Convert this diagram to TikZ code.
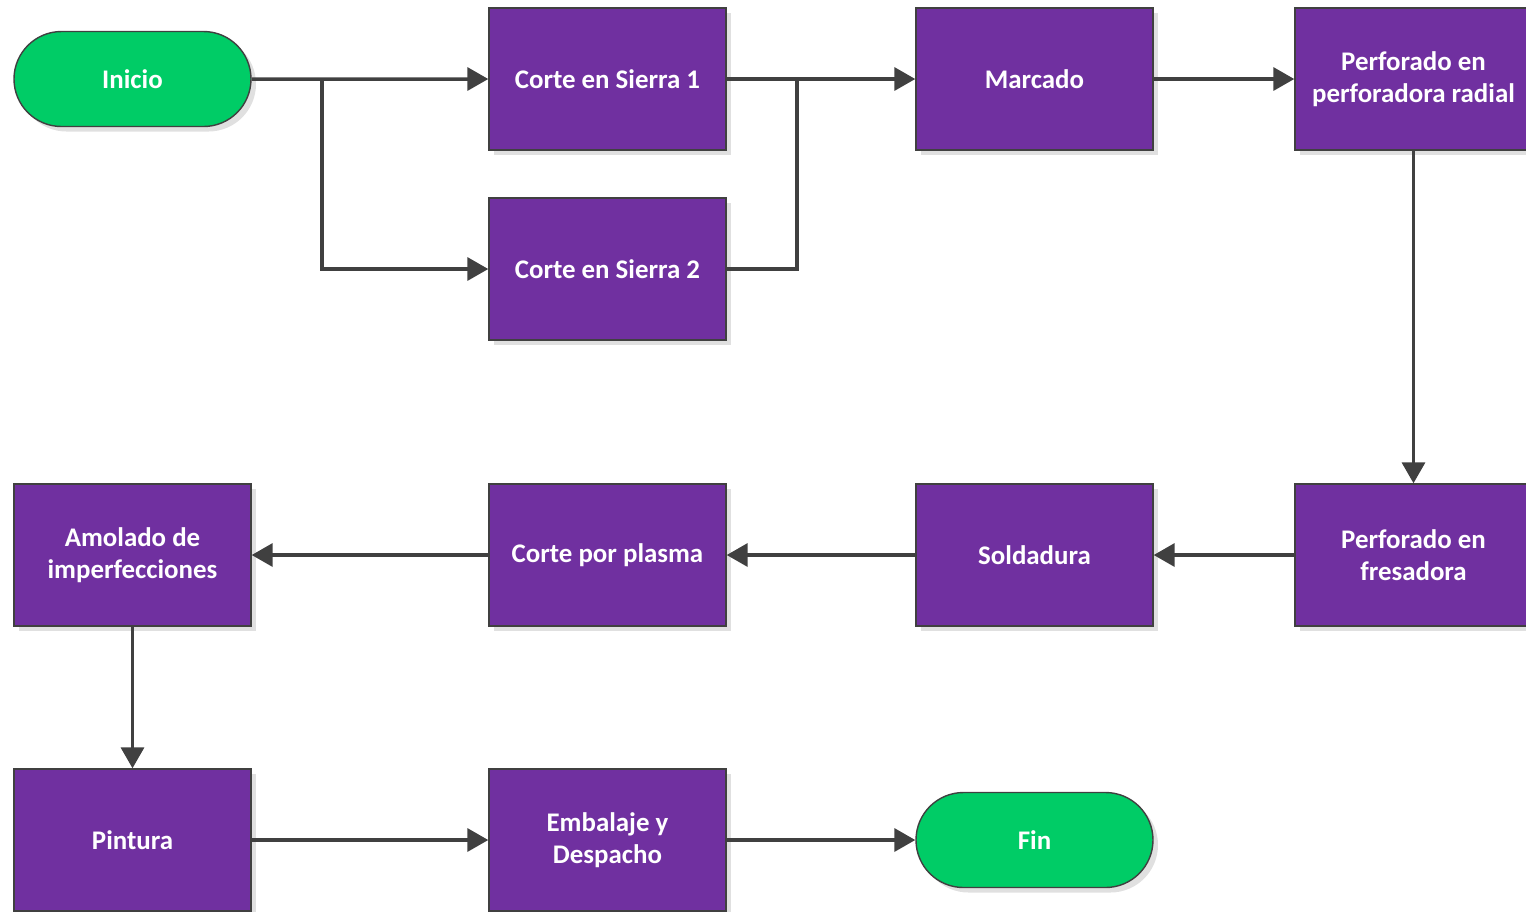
\documentclass[tikz,border=0pt]{standalone}
\usepackage{fontspec}
\setmainfont{Carlito}
\usepackage{xcolor}
\definecolor{flpurple}{HTML}{7030A0}
\definecolor{flgreen}{HTML}{00CC66}
\definecolor{flgray}{HTML}{404040}
\usetikzlibrary{arrows.meta,shapes.misc,shadows}

\begin{document}
\begin{tikzpicture}[
  procbox/.style={draw=flgray,line width=0.4pt,fill=flpurple,minimum width=2.37cm,minimum height=1.42cm,inner sep=0pt,
    text=white,align=center,font=\fontsize{7.65}{9.1}\selectfont\bfseries,
    drop shadow={shadow xshift=0.05cm,shadow yshift=-0.05cm,fill=black!12,opacity=1}},
  termbox/.style={procbox,rounded rectangle,fill=flgreen,minimum height=0.95cm},
  flow/.style={draw=flgray,line width=1pt,-{Triangle[length=0.21cm,width=0.23cm]}}]
  \useasboundingbox (0,0) rectangle (15.26,-9.11);
  % Row 1
  \node[termbox] (inicio) at (1.325,-0.79) {Inicio};
  \node[procbox] (sierra1) at (6.075,-0.79) {Corte en Sierra 1};
  \node[procbox] (sierra2) at (6.075,-2.69) {Corte en Sierra 2};
  \node[procbox] (marcado) at (10.345,-0.79) {Marcado};
  \node[procbox] (radial) at (14.135,-0.79) {Perforado en\\perforadora radial};
  % Row 2
  \node[procbox] (fresa) at (14.135,-5.55) {Perforado en\\fresadora};
  \node[procbox] (soldadura) at (10.345,-5.55) {Soldadura};
  \node[procbox] (plasma) at (6.075,-5.55) {Corte por plasma};
  \node[procbox] (amolado) at (1.325,-5.55) {Amolado de\\imperfecciones};
  % Row 3
  \node[procbox] (pintura) at (1.325,-8.40) {Pintura};
  \node[procbox] (embalaje) at (6.075,-8.40) {Embalaje y\\Despacho};
  \node[termbox] (fin) at (10.345,-8.40) {Fin};
  % Split and join points
  \coordinate (split) at (3.22,-0.79);
  \coordinate (join) at (7.97,-0.79);
  % Arrows
  \draw[flow] (inicio) -- (sierra1);
  \draw[flow] (split) |- (sierra2);
  \draw[flow] (sierra1) -- (marcado);
  \draw[draw=flgray,line width=1pt] (sierra2.east) -| (join);
  \draw[flow] (marcado) -- (radial);
  \draw[flow] (radial) -- (fresa);
  \draw[flow] (fresa) -- (soldadura);
  \draw[flow] (soldadura) -- (plasma);
  \draw[flow] (plasma) -- (amolado);
  \draw[flow] (amolado) -- (pintura);
  \draw[flow] (pintura) -- (embalaje);
  \draw[flow] (embalaje) -- (fin);
\end{tikzpicture}
\end{document}
